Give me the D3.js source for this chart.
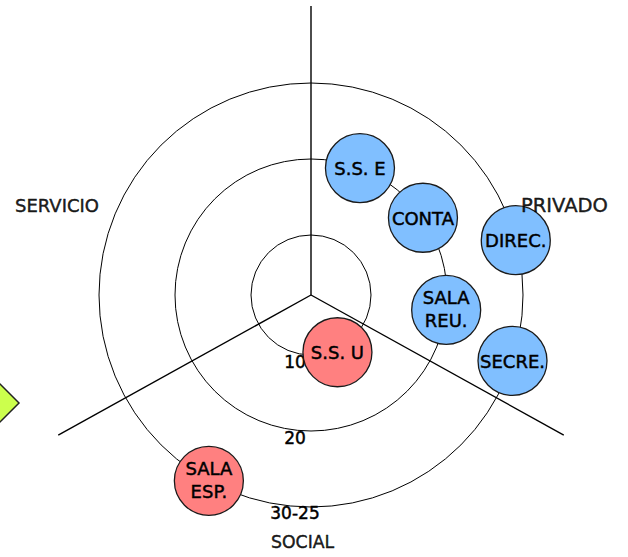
<!DOCTYPE html>
<html>
<head>
<meta charset="utf-8">
<script src="https://cdn.jsdelivr.net/npm/d3@7"></script>
<style>
  html, body { margin: 0; padding: 0; background: #fff; }
  svg { display: block; }
  text { font-family: "DejaVu Sans", sans-serif; fill: #000; stroke: #000; stroke-width: 0.45px; }
</style>
</head>
<body>
<svg id="chart" width="628" height="557"></svg>
<script>
// ---- data ----
const ringValues = [10, 20, 30];
const ringLabels = ["10", "20", "30-25"];
const axisAngles = [0, 119, 241];
const axisNames = ["SERVICIO", "PRIVADO", "SOCIAL"];
const nodeNames = ["S.S. E", "CONTA", "DIREC.", "SALA\nREU.", "SECRE.", "S.S. U", "SALA\nESP."];
const nodeAngles = [21.1, 55.4, 75.0, 96.3, 108.1, 155.2, 208.8];
const nodeValues = [20, 20, 30, 20, 30, 10.4, 30];
const nodeGroups = ["privado", "privado", "privado", "privado", "privado", "social", "social"];

// ---- layout ----
const cx = 311, cy = 295;
const svg = d3.select("#chart");
const g = svg.append("g").attr("transform", `translate(${cx},${cy})`);

const r = d3.scaleLinear().domain([10, 30]).range([60, 212]);
const a = d3.scaleLinear().domain([0, 360]).range([0, 2 * Math.PI]);
const color = d3.scaleOrdinal().domain(["privado", "social"]).range(["#80bfff", "#ff8080"]);

// decorative diamond at left edge
svg.append("polygon")
  .attr("points", "19,403 -31,353 -81,403 -31,453")
  .attr("fill", "#ccff4d")
  .attr("stroke", "#222")
  .attr("stroke-width", 1.5);

// rings
g.selectAll("circle.ring").data(ringValues).join("circle")
  .attr("class", "ring")
  .attr("r", d => r(d))
  .attr("fill", "none")
  .attr("stroke", "#000")
  .attr("stroke-width", 1);

// axes
const axisLen = 289;
g.selectAll("line.axis").data(axisAngles).join("line")
  .attr("class", "axis")
  .attr("x1", 0).attr("y1", 0)
  .attr("x2", d => d3.pointRadial(a(d), axisLen)[0])
  .attr("y2", d => d3.pointRadial(a(d), axisLen)[1])
  .attr("stroke", "#000")
  .attr("stroke-width", 1.4);

// ring labels (below center, on a vertical line)
const ringLabelY = [73, 149, 224];
g.selectAll("text.ringlab").data(ringLabels).join("text")
  .attr("class", "ringlab")
  .attr("x", -16)
  .attr("y", (d, i) => ringLabelY[i])
  .attr("text-anchor", "middle")
  .attr("font-size", 17)
  .text(d => d);

// nodes
const nodes = nodeNames.map((n, i) => {
  const p = d3.pointRadial(a(nodeAngles[i]), r(nodeValues[i]));
  return { name: n, x: p[0], y: p[1], group: nodeGroups[i] };
});

const ng = g.selectAll("g.node").data(nodes).join("g")
  .attr("class", "node")
  .attr("transform", d => `translate(${d.x},${d.y})`);

ng.append("circle")
  .attr("r", 34.5)
  .attr("fill", d => color(d.group))
  .attr("stroke", "#1a1a1a")
  .attr("stroke-width", 1.3);

ng.each(function(d) {
  const lines = d.name.split("\n");
  const t = d3.select(this).append("text")
    .attr("text-anchor", "middle")
    .attr("font-size", 18);
  if (lines.length === 1) {
    t.append("tspan").attr("x", 0).attr("y", 7).text(lines[0]);
  } else {
    t.append("tspan").attr("x", 0).attr("y", -5.5).text(lines[0]);
    t.append("tspan").attr("x", 0).attr("y", 17).text(lines[1]);
  }
});

// axis name labels
const axisLabelPos = [[15, 212, 18], [521, 212, 19.5], [271, 548, 17.3]];
svg.selectAll("text.axisname").data(axisNames).join("text")
  .attr("class", "axisname")
  .attr("x", (d, i) => axisLabelPos[i][0])
  .attr("y", (d, i) => axisLabelPos[i][1])
  .attr("font-size", (d, i) => axisLabelPos[i][2])
  .attr("fill-opacity", 0.88)
  .attr("stroke-opacity", 0.88)
  .text(d => d);
</script>
</body>
</html>
